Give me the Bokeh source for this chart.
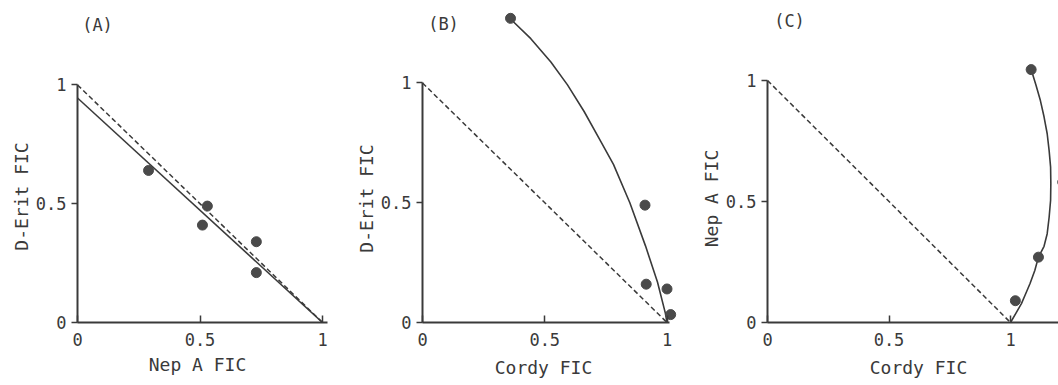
from bokeh.plotting import figure
from bokeh.layouts import row
from bokeh.models import Range1d, FixedTicker, Label, Title
from bokeh.embed import file_html
from bokeh.resources import INLINE

# ---------------- data ----------------
# Panel A: Nep A FIC (x) vs D-Erit FIC (y)
a_x = [0.29, 0.53, 0.51, 0.73, 0.73]
a_y = [0.64, 0.49, 0.41, 0.34, 0.21]
a_fit_x = [0.0, 1.0]
a_fit_y = [0.945, 0.0]

# Panel B: Cordy FIC (x) vs D-Erit FIC (y)
b_x = [0.36, 0.91, 0.915, 1.0, 1.015]
b_y = [1.27, 0.49, 0.16, 0.14, 0.033]
b_curve_x = [0.361, 0.443, 0.525, 0.593, 0.661, 0.729, 0.781, 0.848, 0.912, 0.961, 0.993, 1.0]
b_curve_y = [1.266, 1.185, 1.088, 0.992, 0.881, 0.756, 0.66, 0.50, 0.32, 0.169, 0.04, 0.0]

# Panel C: Cordy FIC (x) vs Nep A FIC (y)
c_x = [1.085, 1.115, 1.02, 1.215]
c_y = [1.045, 0.27, 0.09, 0.58]
c_curve_x = [1.085, 1.105, 1.123, 1.138, 1.151, 1.159, 1.165, 1.166, 1.165, 1.159, 1.151,
             1.138, 1.115, 1.10, 1.08, 1.062, 1.045, 1.022, 1.0]
c_curve_y = [1.045, 0.98, 0.917, 0.85, 0.78, 0.71, 0.642, 0.575, 0.505, 0.435, 0.367,
             0.315, 0.27, 0.215, 0.16, 0.118, 0.078, 0.038, 0.0]

# additivity line
add_x = [0.0, 1.0]
add_y = [1.0, 0.0]

ticks = [0, 0.5, 1]
tick_labels = {0: "0", 0.5: "0.5", 1: "1"}

FONT = "DejaVu Sans Mono"
INK = "#3a3a3a"
H = 385
LABEL_PX = 18
CHAR_W = 0.602 * LABEL_PX


def panel(width, ox, sx, oy, sy, mbl, mbr, xbound_end, title, title_px, xlabel, xlabel_cx,
          ylabel, ylabel_cy, xt_standoff):
    mbb = H - oy
    x_end = (width - mbr - mbl) / sx
    y_end = oy / sy
    p = figure(width=width, height=H, x_range=Range1d(0, x_end), y_range=Range1d(0, y_end),
               output_backend="svg", toolbar_location=None,
               min_border_left=mbl, min_border_right=mbr, min_border_top=0,
               min_border_bottom=mbb)
    p.grid.visible = False
    p.outline_line_color = None
    p.background_fill_color = "white"
    for ax in (p.xaxis[0], p.yaxis[0]):
        ax.ticker = FixedTicker(ticks=ticks)
        ax.major_label_overrides = tick_labels
        ax.minor_tick_line_color = None
        ax.axis_line_color = INK
        ax.axis_line_width = 2
        ax.major_tick_line_color = INK
        ax.major_tick_line_width = 1.5
        ax.major_label_text_font = FONT
        ax.major_label_text_font_size = "17px"
        ax.major_label_text_color = INK
    p.xaxis.major_tick_in = 7
    p.xaxis.major_tick_out = 0
    p.xaxis.major_label_standoff = 10
    p.xaxis.bounds = (0, xbound_end) if xbound_end else "auto"
    p.yaxis.major_tick_in = 0
    p.yaxis.major_tick_out = 6
    p.yaxis.major_label_standoff = 5
    p.yaxis.bounds = (0, 1)

    # panel letter inside the plotting area
    dx, dy = (title_px[0] - ox) / sx, (oy - title_px[1]) / sy
    p.add_layout(Label(x=dx, y=dy, text=title, text_font=FONT, text_font_size="17px",
                       text_color=INK, text_align="center", text_baseline="middle"))

    # axis titles
    xt = Title(text=xlabel, align="left", offset=(xlabel_cx - ox) - len(xlabel) * CHAR_W / 2,
               text_font=FONT, text_font_size=f"{LABEL_PX}px", text_font_style="normal",
               text_color=INK, standoff=xt_standoff)
    p.add_layout(xt, "below")
    yt = Title(text=ylabel, align="left", offset=(oy - ylabel_cy) - len(ylabel) * CHAR_W / 2,
               text_font=FONT, text_font_size=f"{LABEL_PX}px", text_font_style="normal",
               text_color=INK, standoff=2)
    p.add_layout(yt, "left")
    return p


# figure A: 0..349, B: 349..694, C: 694..1058
pA = panel(349, 77, 245, 328, 242, 77, 6, 1.02, "(A)", (97, 25), "Nep A FIC", 197,
           "D-Erit FIC", 202, 6)
pA.line(add_x, add_y, line_color=INK, line_width=1.5, line_dash="5 3")
pA.line(a_fit_x, a_fit_y, line_color=INK, line_width=1.6)
pA.scatter(a_x, a_y, size=10, fill_color="#4a4a4a", line_color="#4a4a4a")

pB = panel(345, 73, 244.5, 324, 241, 73, 4, 1.01, "(B)", (94, 24), "Cordy FIC", 194,
           "D-Erit FIC", 200, 12)
pB.line(add_x, add_y, line_color=INK, line_width=1.5, line_dash="5 3")
pB.line(b_curve_x, b_curve_y, line_color=INK, line_width=1.6)
pB.scatter(b_x, b_y, size=10, fill_color="#4a4a4a", line_color="#4a4a4a")

pC = panel(364, 73, 243, 322, 242, 73, 0, None, "(C)", (95, 20), "Cordy FIC", 224,
           "Nep A FIC", 198, 12)
pC.line(add_x, add_y, line_color=INK, line_width=1.5, line_dash="5 3")
pC.line(c_curve_x, c_curve_y, line_color=INK, line_width=1.6)
pC.scatter(c_x, c_y, size=10, fill_color="#4a4a4a", line_color="#4a4a4a")

layout = row(pA, pB, pC)
open("out.html", "w").write(file_html(layout, INLINE))
